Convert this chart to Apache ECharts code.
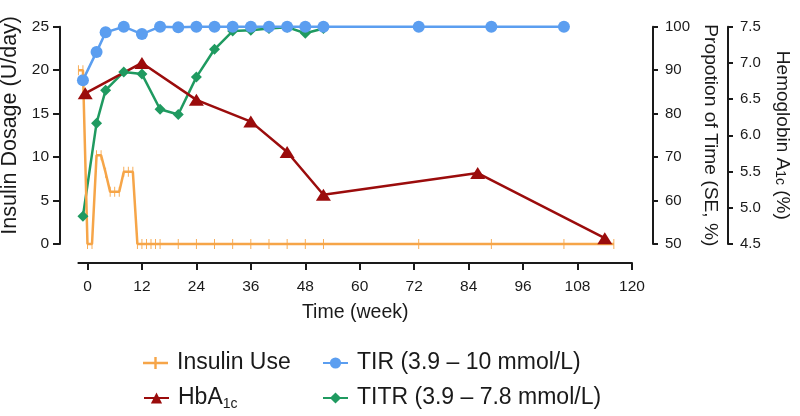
<!DOCTYPE html>
<html><head><meta charset="utf-8">
<script src="https://cdn.jsdelivr.net/npm/echarts@6/dist/echarts.min.js"></script>
<style>html,body{margin:0;padding:0;background:#fff}#c{width:800px;height:416px}</style>
</head><body><div id="c"></div>
<script>
// ---- data ----
const xTicks = [0, 12, 24, 36, 48, 60, 72, 84, 96, 108, 120];

const weeksInsulin = [-2, -1, 0, 1, 2, 3, 4, 5, 6, 7, 8, 9, 10, 11, 12, 13, 14, 15, 16, 20, 24, 28, 32, 36, 40, 44, 48, 52, 73, 89, 105, 116];
const insulinUse   = [20, 20, 0, 0, 10.2, 10.2, 8.2, 6, 6, 6, 8.3, 8.3, 8.3, 0, 0, 0, 0, 0, 0, 0, 0, 0, 0, 0, 0, 0, 0, 0, 0, 0, 0, 0];

const weeksTIR = [-1, 2, 4, 8, 12, 16, 20, 24, 28, 32, 36, 40, 44, 48, 52, 73, 89, 105];
const tir      = [87.7, 94.2, 98.7, 100, 98.3, 100, 99.9, 100, 100, 100, 100, 100, 100, 100, 100, 100, 100, 100];

const weeksTITR = [-1, 2, 4, 8, 12, 16, 20, 24, 28, 32, 36, 40, 44, 48, 52];
const titr      = [56.4, 77.8, 85.4, 89.6, 89.1, 81.0, 79.8, 88.4, 94.8, 99.0, 99.2, 99.6, 99.9, 98.5, 99.6];

const weeksA1c = [-0.5, 12, 24, 36, 44, 52, 86, 114];
const hba1c    = [6.58, 7.0, 6.49, 6.19, 5.77, 5.18, 5.48, 4.58];

const seriesNames = ['Insulin Use', 'HbA1c', 'TIR (3.9 – 10 mmol/L)', 'TITR (3.9 – 7.8 mmol/L)'];

// ---- chart ----
const zip = (xs, ys) => xs.map((x, i) => [x, ys[i]]);
const FONT = '"Liberation Sans", Arial, sans-serif';
const INK = '#1a1a1a';
const ORANGE = '#f6a548', BLUE = '#5b9ef0', GREEN = '#1f9a60', RED = '#9b0c0c';
const axisLine = { show: true, onZero: false, lineStyle: { color: INK, width: 2 } };
const axisTickBase = { show: true, length: 6, lineStyle: { color: INK, width: 2 } };
const subRich = {
  sub: { fontSize: 14, verticalAlign: 'bottom', lineHeight: 14, color: INK, fontFamily: FONT }
};
const legendBase = (left, top, item, extra) => Object.assign({
  orient: 'vertical', left: left, top: top, itemWidth: 25, itemHeight: 14, padding: 0,
  data: [item],
  textStyle: { fontSize: 23, color: INK, lineHeight: 26, padding: [0, 0, 0, 4], rich: subRich }
}, extra || {});

const chart = echarts.init(document.getElementById('c'), null, { renderer: 'canvas' });
chart.setOption({
  animation: false,
  backgroundColor: '#fff',
  textStyle: { fontFamily: FONT, color: INK },
  grid: { left: 78.4, right: 168, top: 26.7, bottom: 172, containLabel: false, outerBoundsMode: 'none' },
  xAxis: {
    type: 'value', min: -2, max: 120, offset: 19,
    axisLine: axisLine,
    axisTick: Object.assign({}, axisTickBase, { customValues: xTicks, length: 7 }),
    axisLabel: { customValues: xTicks, fontSize: 15.5, color: INK, margin: 16 },
    splitLine: { show: false },
    name: 'Time (week)', nameLocation: 'middle', nameGap: 40,
    nameTextStyle: { fontSize: 19.5, color: INK }
  },
  yAxis: [
    {
      type: 'value', min: 0, max: 25, interval: 5, position: 'left', offset: 18.4,
      axisLine: axisLine, axisTick: Object.assign({}, axisTickBase, { length: 7 }),
      axisLabel: { fontSize: 15.5, color: INK, margin: 11 },
      splitLine: { show: false },
      name: 'Insulin Dosage (U/day)', nameLocation: 'middle', nameGap: 38,
      nameTextStyle: { fontSize: 21.5, color: INK, padding: [0, 0, 0, 20] }
    },
    {
      type: 'value', min: 50, max: 100, interval: 10, position: 'right', offset: 21,
      axisLine: axisLine, axisTick: Object.assign({}, axisTickBase, { length: 5 }),
      axisLabel: { fontSize: 15, color: INK, margin: 12 },
      splitLine: { show: false },
      name: 'Propotion of Time (SE, %)', nameLocation: 'middle', nameGap: 42, nameRotate: -90,
      nameTextStyle: { fontSize: 19.2, color: INK }
    },
    {
      type: 'value', min: 4.5, max: 7.5, interval: 0.5, position: 'right', offset: 96,
      axisLine: axisLine, axisTick: Object.assign({}, axisTickBase, { length: 5 }),
      axisLabel: { fontSize: 15, color: INK, margin: 12, formatter: v => v.toFixed(1) },
      splitLine: { show: false },
      name: 'Hemoglobin A{sub|1c} (%)', nameLocation: 'middle', nameGap: 45, nameRotate: -90,
      nameTextStyle: { fontSize: 19, color: INK, rich: subRich }
    }
  ],
  legend: [
    legendBase(143, 350, { name: seriesNames[0], icon: 'path://M0,5.8h11.3v-4.8h2.4v4.8h11.3v2.4h-11.3v4.8h-2.4v-4.8h-11.3z', itemStyle: { color: ORANGE } }),
    legendBase(143, 385, seriesNames[1], { formatter: n => 'HbA{sub|1c}' }),
    legendBase(322, 350, seriesNames[2]),
    legendBase(322, 385, seriesNames[3])
  ],
  series: [
    {
      name: seriesNames[3], type: 'line', yAxisIndex: 1, clip: false,
      data: zip(weeksTITR, titr),
      symbol: 'diamond', symbolSize: 11,
      lineStyle: { color: GREEN, width: 2.5 }, itemStyle: { color: GREEN }
    },
    {
      name: seriesNames[2], type: 'line', yAxisIndex: 1, clip: false,
      data: zip(weeksTIR, tir),
      symbol: 'circle', symbolSize: 12,
      lineStyle: { color: BLUE, width: 2.5 }, itemStyle: { color: BLUE }
    },
    {
      name: seriesNames[0], type: 'line', yAxisIndex: 0, clip: false,
      data: zip(weeksInsulin, insulinUse),
      symbol: 'path://M0,0h3v10h-3z', symbolKeepAspect: true, symbolSize: [3, 10],
      lineStyle: { color: ORANGE, width: 2.5 }, itemStyle: { color: ORANGE }
    },
    {
      name: seriesNames[1], type: 'line', yAxisIndex: 2, clip: false,
      data: zip(weeksA1c, hba1c),
      symbol: 'triangle', symbolSize: [15, 12],
      lineStyle: { color: RED, width: 2.5 }, itemStyle: { color: RED }
    }
  ]
});
</script>
</body></html>
